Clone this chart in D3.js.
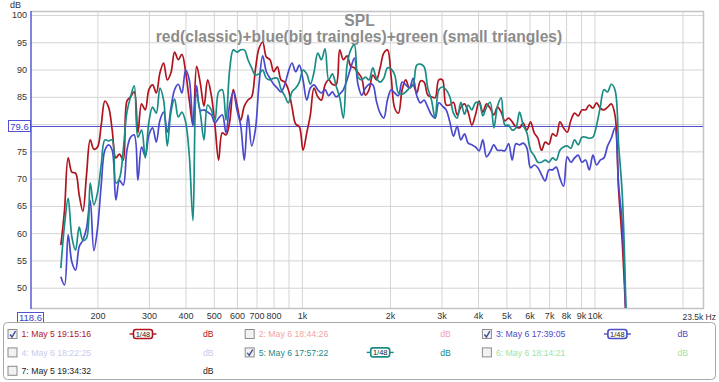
<!DOCTYPE html>
<html lang="en">
<head>
<meta charset="UTF-8">
<title>SPL</title>
<script src="https://cdnjs.cloudflare.com/ajax/libs/d3/7.8.5/d3.min.js"></script>
<style>
    body { margin: 0; background: #fff; }
    svg { display: block; font-family: "Liberation Sans", Arial, sans-serif; }
    .grid .tick line { stroke: #d4d4d4; }
    .grid .tick text { fill: #333; font-size: 9px; }
</style>
</head>
<body>
<div id="chart"></div>
<script>

    // 1/24 octave frequency grid (Hz)
    var freqs = [150,154.4,158.9,163.6,168.4,173.3,178.4,183.6,189,194.5,200.2,206.1,212.1,218.4,224.7,231.3,238.1,245.1,252.3,259.7,267.3,275.1,283.2,291.5,
        300,308.8,317.9,327.2,336.8,346.6,356.8,367.2,378,389,400.4,412.2,424.3,436.7,449.5,462.7,476.2,490.2,504.5,519.3,534.5,550.2,566.3,582.9,
        600,617.6,635.7,654.3,673.5,693.2,713.5,734.5,756,778.1,800.9,824.3,848.5,873.4,899,925.3,952.4,980.3,1009,1039,1069,1100,1133,1166,
        1200,1235,1271,1309,1347,1386,1427,1469,1512,1556,1602,1649,1697,1747,1798,1851,1905,1961,2018,2077,2138,2201,2265,2332,
        2400,2470,2543,2617,2694,2773,2854,2938,3024,3112,3204,3297,3394,3494,3596,3701,3810,3921,4036,4155,4276,4402,4531,4663,
        4800,4941,5086,5235,5388,5546,5708,5876,6048,6225,6407,6595,6788,6987,7192,7402,7619,7843,8073,8309,8553,8803,9061,9327,
        9600,9881,10171,10469,10776,11092,11417,11752,12096,12451,12816];

    // red (classic)
    var redDb = [57.8,64.2,73.8,71.2,71.0,67.0,64.0,70.7,77.1,75.4,
        75.8,79.8,84.2,83.1,78.9,73.8,74.5,73.4,84.2,85.0,
        85.9,78.4,83.7,82.6,86.3,87.2,85.7,89.4,91.2,88.1,
        89.4,93.2,91.8,92.8,89.6,84.4,79.8,90.6,87.5,83.3,
        88.1,85.3,79.8,73.4,78.4,78.0,80.4,86.3,83.5,80.7,
        83.3,84.4,85.0,89.9,93.9,95.0,92.3,91.8,89.6,90.5,
        88.1,87.7,86.3,83.1,80.0,79.5,75.2,78.4,81.7,86.6,
        85.0,84.4,87.2,88.1,87.3,87.2,93.6,91.8,92.5,90.6,
        90.3,89.4,88.4,85.3,86.3,89.0,88.1,90.3,93.0,93.6,
        88.8,82.9,82.0,86.3,88.1,86.6,87.2,85.7,87.9,87.7,
        85.3,85.0,84.8,88.1,88.1,83.5,83.5,84.0,81.7,83.1,
        83.7,82.2,79.8,81.7,84.2,82.2,83.7,82.9,81.7,83.1,
        82.2,80.6,81.1,80.4,79.5,79.3,80.2,78.9,80.4,78.4,
        77.4,75.2,76.7,76.3,78.2,77.8,80.4,79.3,78.5,80.7,
        82.0,81.5,82.6,82.6,83.5,82.9,83.9,82.9,82.6,83.1,
        83.7,81.7,67.9,58.2,44.1];

    // blue (big triangles)
    var blueDb = [52.0,50.5,59.7,54.7,53.2,57.5,58.7,60.9,66.0,56.8,
        60.9,68.8,75.2,76.2,75.2,66.1,69.7,68.8,75.2,77.6,
        78.0,69.7,75.8,74.1,78.0,79.3,76.7,80.7,82.2,78.5,
        82.9,86.3,87.3,85.7,89.9,88.1,79.8,87.0,82.5,82.6,
        82.2,81.7,80.2,81.1,81.7,78.4,83.5,85.9,82.6,79.8,
        73.4,81.7,76.0,78.9,87.2,92.5,89.6,88.4,87.3,86.6,
        85.9,87.2,89.6,91.2,89.6,90.8,88.1,84.4,86.6,87.2,
        86.3,85.7,86.3,85.2,85.9,85.0,85.5,86.3,88.1,90.3,
        92.1,87.2,85.3,86.6,87.3,87.2,84.2,82.0,81.1,84.4,
        86.3,85.7,85.2,87.7,87.2,86.6,88.4,85.2,83.9,84.4,
        83.1,81.7,81.1,83.9,83.3,82.6,80.4,77.8,79.6,77.1,
        78.2,76.5,76.2,75.8,75.1,77.1,74.0,74.9,76.2,75.2,
        75.2,75.1,76.4,73.4,76.4,76.2,76.5,75.6,72.0,72.5,
        72.0,70.7,69.6,71.6,71.6,72.1,70.1,68.6,74.0,73.0,
        73.8,74.3,73.0,73.4,71.6,74.3,72.5,73.4,73.8,76.0,
        77.4,79.3,68.8,61.5,44.1];

    // green (small triangles)
    var greenDb = [53.6,61.5,66.4,59.3,56.9,61.1,58.7,59.1,69.2,65.2,
        67.4,72.5,77.1,76.9,77.1,69.2,70.1,75.2,82.2,85.0,
        87.0,77.6,78.9,73.8,80.4,83.1,82.0,86.6,84.4,76.0,
        82.2,84.6,81.3,82.2,80.4,74.3,62.3,85.3,82.0,77.1,
        83.5,82.6,80.7,85.9,86.3,80.7,89.9,93.6,93.2,93.6,
        93.6,91.8,90.3,89.0,89.2,89.9,88.4,88.1,88.4,88.4,
        86.4,85.2,83.9,85.9,86.6,87.7,89.9,89.2,87.3,89.5,
        93.0,91.8,93.8,88.1,89.2,87.0,84.8,81.1,90.8,93.6,
        94.5,88.6,88.1,88.6,88.1,90.3,88.4,87.7,88.4,90.3,
        90.1,89.0,85.7,85.5,85.9,86.6,87.2,90.8,91.0,90.5,
        86.6,84.4,81.1,86.3,86.8,86.3,85.0,82.0,81.1,84.0,
        81.8,83.5,82.6,83.9,83.9,81.5,83.1,84.0,79.3,83.3,
        84.8,79.8,79.8,78.9,79.3,82.2,79.8,78.4,75.2,74.2,
        73.0,73.0,73.4,73.0,73.8,73.4,75.2,75.8,76.0,75.6,
        77.1,76.2,77.6,77.6,77.4,77.6,79.8,83.1,86.3,85.9,
        87.3,86.3,76.2,67.0,45.9];

    var xTicks = [200,300,400,500,600,700,800,900,1000,2000,3000,4000,5000,6000,7000,8000,9000,10000,20000];
    var xTickLabels = ["200","300","400","500","600","700","800","","1k","2k","3k","4k","5k","6k","7k","8k","9k","10k",""];
    var yTicks = [50,55,60,65,70,75,80,85,90,95,100];
    var yTickLabels = ["50","55","60","65","70","75","","85","90","95","100"];

    var legendNames = ["1: May 5 19:15:16","2: May 6 18:44:26","3: May 6 17:39:05",
        "4: May 6 18:22:25","5: May 6 17:57:22","6: May 6 18:14:21","7: May 5 19:34:32"];
    var legendColors = ["#b0141e","#f2a4a4","#4c4cc4","#cacaf0","#1c8a84","#a4e2a4","#222222"];
    var legendChecked = [true,false,true,false,true,false,false];

    var width = 719, height = 382;
    var plotL = 31, plotR = 703, plotT = 11, plotB = 308;

    var x = d3.scaleLog().domain([118.6, 23500]).range([plotL, plotR]);
    var y = d3.scaleLinear().domain([46.28, 100.73]).range([plotB, plotT]);

    var svg = d3.select("#chart").append("svg")
        .attr("width", width)
        .attr("height", height);

    // grid + tick labels
    var xAxis = svg.append("g")
        .attr("class", "grid")
        .attr("transform", "translate(0," + plotB + ")")
        .call(d3.axisBottom(x).tickValues(xTicks)
            .tickFormat(function(d, i){ return xTickLabels[i]; })
            .tickSize(-(plotB - plotT)).tickPadding(5));
    xAxis.select(".domain").remove();

    var yAxis = svg.append("g")
        .attr("class", "grid")
        .attr("transform", "translate(" + plotL + ",0)")
        .call(d3.axisLeft(y).tickValues(yTicks)
            .tickFormat(function(d, i){ return yTickLabels[i]; })
            .tickSize(-(plotR - plotL)).tickPadding(4));
    yAxis.select(".domain").remove();

    svg.append("text")
        .attr("x", 716).attr("y", 320)
        .attr("text-anchor", "end")
        .style("font-size", "8.5px").attr("fill", "#333")
        .text("23.5k Hz");

    svg.append("text")
        .attr("x", 10).attr("y", 8)
        .style("font-size", "9px").attr("fill", "#333")
        .text("dB");

    // frame
    svg.append("path")
        .attr("d", "M" + plotL + "," + (plotT + 0.5) + "H" + (plotR + 0.5) + "V" + (plotB + 0.5) + "H" + plotL)
        .attr("fill", "none")
        .attr("stroke", "#c4c4c4")
        .attr("stroke-width", 1.5);
    svg.append("line")
        .attr("x1", plotL).attr("x2", plotL)
        .attr("y1", plotT).attr("y2", plotB + 1)
        .attr("stroke", "#5a5ad6")
        .attr("stroke-width", 1.5);

    // titles
    svg.append("text")
        .attr("x", 359.5).attr("y", 26)
        .attr("text-anchor", "middle")
        .style("font-size", "15.6px").style("font-weight", "bold")
        .attr("fill", "#8c8c8c")
        .text("SPL");
    svg.append("text")
        .attr("x", 359).attr("y", 42)
        .attr("text-anchor", "middle")
        .style("font-size", "15.6px").style("font-weight", "bold")
        .attr("fill", "#8c8c8c")
        .text("red(classic)+blue(big traingles)+green (small triangles)");

    // cursor line at 79.6 dB
    var cursorDb = 79.6;
    svg.append("line")
        .attr("x1", plotL).attr("x2", plotR)
        .attr("y1", Math.round(y(cursorDb)) + 0.5).attr("y2", Math.round(y(cursorDb)) + 0.5)
        .attr("stroke", "#5050d0");

    // curves
    svg.append("clipPath").attr("id", "plotclip")
        .append("rect")
        .attr("x", plotL).attr("y", plotT)
        .attr("width", plotR - plotL).attr("height", plotB - plotT);

    var line = d3.line()
        .x(function(d, i){ return x(freqs[i]); })
        .y(function(d){ return y(d); })
        .curve(d3.curveCatmullRom.alpha(0.5));

    var series = [
        {values: redDb, color: "#b0141e"},
        {values: blueDb, color: "#4a48cc"},
        {values: greenDb, color: "#1a8c86"}
    ];

    svg.append("g").attr("clip-path", "url(#plotclip)")
        .selectAll("path")
        .data(series)
        .enter()
        .append("path")
        .attr("d", function(d){ return line(d.values); })
        .attr("fill", "none")
        .attr("stroke", function(d){ return d.color; })
        .attr("stroke-width", 1.7)
        .attr("stroke-linejoin", "round");

    // value boxes
    var boxY = Math.round(y(cursorDb));
    svg.append("rect")
        .attr("x", 8.5).attr("y", boxY - 5.5)
        .attr("width", 22).attr("height", 11)
        .attr("fill", "#fff").attr("stroke", "#5050d0");
    svg.append("text")
        .attr("x", 19.5).attr("y", boxY + 3.5)
        .attr("text-anchor", "middle")
        .style("font-size", "9.5px").attr("fill", "#4040c8")
        .text(cursorDb.toFixed(1));

    svg.append("rect")
        .attr("x", 17.5).attr("y", 312.5)
        .attr("width", 26).attr("height", 10)
        .attr("fill", "#fff").attr("stroke", "#5050d0");
    svg.append("text")
        .attr("x", 30.5).attr("y", 321)
        .attr("text-anchor", "middle")
        .style("font-size", "9.5px").attr("fill", "#4040c8")
        .text(x.domain()[0]);

    // legend
    svg.append("rect")
        .attr("x", 3.5).attr("y", 322.5)
        .attr("width", 712).attr("height", 57)
        .attr("rx", 4)
        .attr("fill", "#fff")
        .attr("stroke", "#a8a8a8");

    var items = svg.selectAll(".item")
        .data(legendNames)
        .enter()
        .append("g")
        .attr("class", "item")
        .attr("transform", function(d, i){
            return "translate(" + (7.5 + (i % 3) * 237.2) + "," + (334 + Math.floor(i / 3) * 18.4) + ")";
        });

    items.append("rect")
        .attr("x", 0.5).attr("y", -4.5)
        .attr("width", 9).attr("height", 9)
        .attr("fill", "#f2f2f2")
        .attr("stroke", "#8c8c8c");

    items.filter(function(d, i){ return legendChecked[i]; })
        .append("path")
        .attr("d", "M2.5,0.5 L4.5,3 L8,-2.8")
        .attr("fill", "none")
        .attr("stroke", "#3c4c9c")
        .attr("stroke-width", 1.4);

    items.append("text")
        .attr("x", 14).attr("y", 3.3)
        .style("font-size", "8.7px")
        .attr("fill", function(d, i){ return legendColors[i]; })
        .text(function(d){ return d; });

    items.append("text")
        .attr("x", 195.5).attr("y", 3.3)
        .style("font-size", "8.7px")
        .attr("fill", function(d, i){ return legendColors[i]; })
        .text("dB");

    // smoothing badge
    var badge = items.filter(function(d, i){ return legendChecked[i]; })
        .append("g")
        .attr("transform", "translate(122,0)");
    badge.append("line")
        .attr("x1", 0).attr("x2", 27).attr("y1", 0).attr("y2", 0)
        .attr("stroke", function(d){ return legendColors[legendNames.indexOf(d)]; })
        .attr("stroke-width", 1.4);
    badge.append("rect")
        .attr("x", 4).attr("y", -4.5)
        .attr("width", 19).attr("height", 9)
        .attr("rx", 2.5)
        .attr("fill", "#fff")
        .attr("stroke", function(d){ return legendColors[legendNames.indexOf(d)]; })
        .attr("stroke-width", 1.6);
    badge.append("text")
        .attr("x", 13.5).attr("y", 2.8)
        .attr("text-anchor", "middle")
        .style("font-size", "7.5px")
        .attr("fill", "#222")
        .text("1/48");

</script>
</body>
</html>
